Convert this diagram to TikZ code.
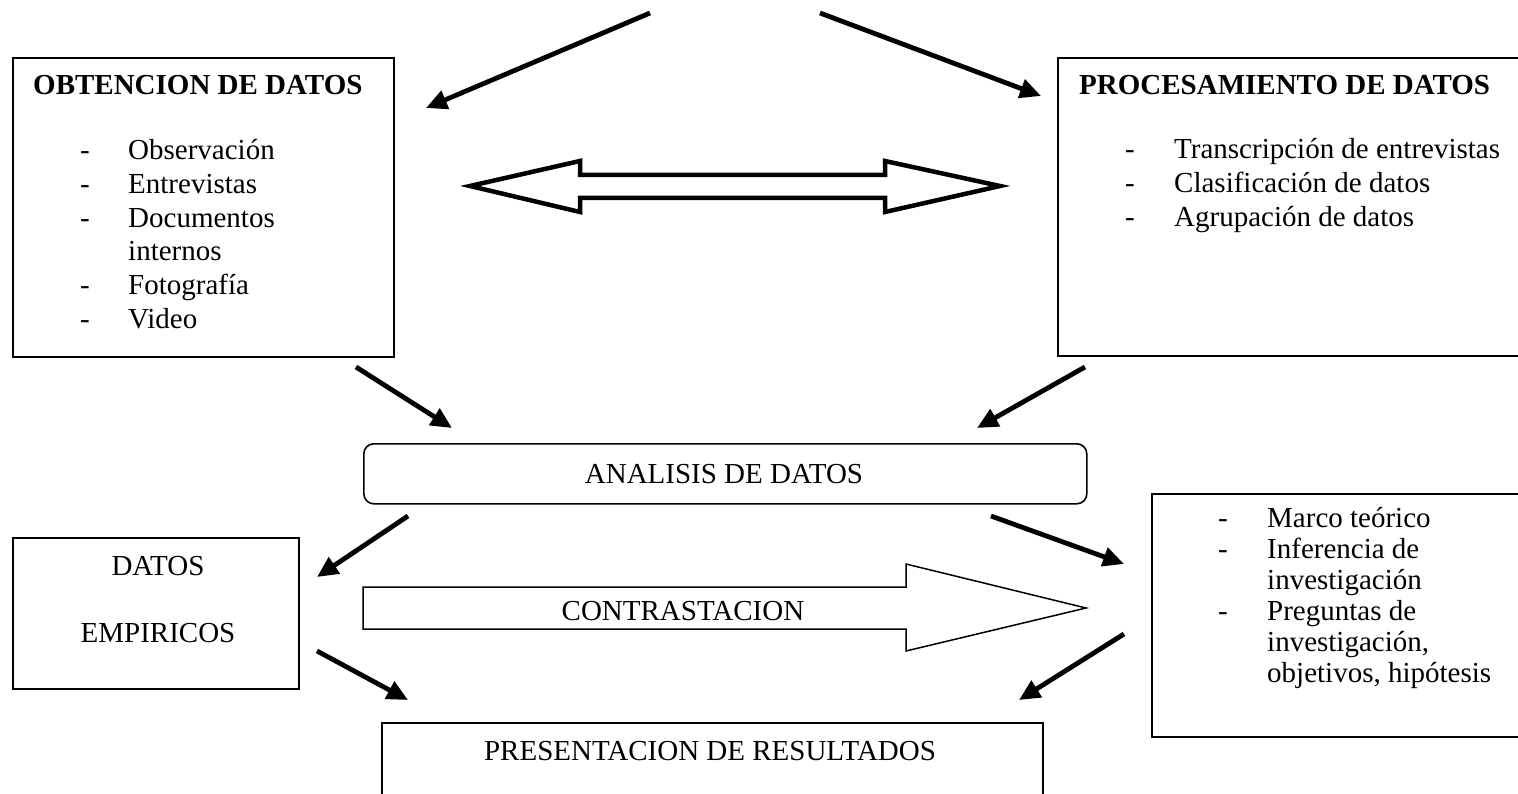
\documentclass[tikz,border=0pt]{standalone}
\usepackage{fontspec}
\setmainfont{Liberation Serif}
\usetikzlibrary{arrows.meta}
\newcommand\dashitem[2]{\makebox[#1][l]{-}#2}
\begin{document}
\begin{tikzpicture}[x=1pt,y=-1pt,
  box/.style={draw, line width=1.6pt, inner sep=0pt, anchor=north west},
  conn/.style={line width=4.8pt, -{Triangle[length=21pt,width=19pt]}},
  txt/.style={inner sep=0pt, font=\fontsize{29}{33}\selectfont},
  lst/.style={txt, anchor=base west},
  ctr/.style={txt, anchor=base},
  hollow/.style={draw, fill=white, line join=miter}]
\clip (0,0) rectangle (1518,794);
\fill[white] (0,0) rectangle (1518,794);

% boxes
\node[box, minimum width=381pt, minimum height=299pt] (obt) at (12,57) {};
\node[box, minimum width=500pt, minimum height=298pt] (proc) at (1057,57) {};
\node[box, rounded corners=10pt, minimum width=723pt, minimum height=60pt] (anal) at (363,443) {};
\node[box, minimum width=286pt, minimum height=151pt] (emp) at (12,537) {};
\node[box, minimum width=400pt, minimum height=243pt] (teo) at (1151,493) {};
\node[box, minimum width=661pt, minimum height=120pt] (pres) at (381,722) {};

% OBTENCION text
\node[lst, font=\fontsize{29}{33}\selectfont\bfseries] (obtT) at (33,95) {OBTENCION DE DATOS};
\node[lst] (o1) at (80,160) {\dashitem{48pt}{Observación}};
\node[lst] (o2) at (80,193.6) {\dashitem{48pt}{Entrevistas}};
\node[lst] (o3) at (80,227.2) {\dashitem{48pt}{Documentos}};
\node[lst] (o4) at (128,260.8) {internos};
\node[lst] (o5) at (80,294.4) {\dashitem{48pt}{Fotografía}};
\node[lst] (o6) at (80,328) {\dashitem{48pt}{Video}};

% PROCESAMIENTO text
\node[lst, font=\fontsize{29}{33}\selectfont\bfseries] (procT) at (1079,95) {PROCESAMIENTO DE DATOS};
\node[lst] (p1) at (1125,159) {\dashitem{49pt}{Transcripción de entrevistas}};
\node[lst] (p2) at (1125,193) {\dashitem{49pt}{Clasificación de datos}};
\node[lst] (p3) at (1125,227) {\dashitem{49pt}{Agrupación de datos}};

% ANALISIS, DATOS EMPIRICOS, PRESENTACION
\node[ctr] (analT) at (724,483) {ANALISIS DE DATOS};
\node[ctr] (emp1) at (158,575) {DATOS};
\node[ctr] (emp2) at (158,642) {EMPIRICOS};
\node[ctr] (presT) at (710,760) {PRESENTACION DE RESULTADOS};

% right lower box text
\node[lst] (t1) at (1218,527) {\dashitem{49pt}{Marco teórico}};
\node[lst] (t2) at (1218,558) {\dashitem{49pt}{Inferencia de}};
\node[lst] (t3) at (1267,589) {investigación};
\node[lst] (t4) at (1218,620) {\dashitem{49pt}{Preguntas de}};
\node[lst] (t5) at (1267,651) {investigación,};
\node[lst] (t6) at (1267,682) {objetivos, hipótesis};

% hollow double arrow
\draw[hollow, line width=4.5pt] (470,186) -- (580,161) -- (580,175) -- (885,175) -- (885,161)
  -- (1000,186) -- (885,212) -- (885,198) -- (580,198) -- (580,212) -- cycle;

% hollow single arrow CONTRASTACION
\draw[hollow, line width=1.5pt] (363,587) -- (906,587) -- (906,564) -- (1086,608)
  -- (906,651) -- (906,629) -- (363,629) -- cycle;
\node[ctr] (contT) at (683,620) {CONTRASTACION};

% connector end points
\coordinate (a1s) at (650,13);   \coordinate (a1e) at (426,108);
\coordinate (a2s) at (820,13);   \coordinate (a2e) at (1041,96);
\coordinate (a3s) at (356,367);  \coordinate (a3e) at (452,428);
\coordinate (a4s) at (1085,367); \coordinate (a4e) at (977,428);
\coordinate (a5s) at (408,516);  \coordinate (a5e) at (317,577);
\coordinate (a6s) at (991,516);  \coordinate (a6e) at (1124,564);
\coordinate (a7s) at (317,651);  \coordinate (a7e) at (408,700);
\coordinate (a8s) at (1124,634); \coordinate (a8e) at (1019,700);

\draw[conn] (a1s) -- (a1e);
\draw[conn] (a2s) -- (a2e);
\draw[conn] (a3s) -- (a3e);
\draw[conn] (a4s) -- (a4e);
\draw[conn] (a5s) -- (a5e);
\draw[conn] (a6s) -- (a6e);
\draw[conn] (a7s) -- (a7e);
\draw[conn] (a8s) -- (a8e);
\end{tikzpicture}
\end{document}
